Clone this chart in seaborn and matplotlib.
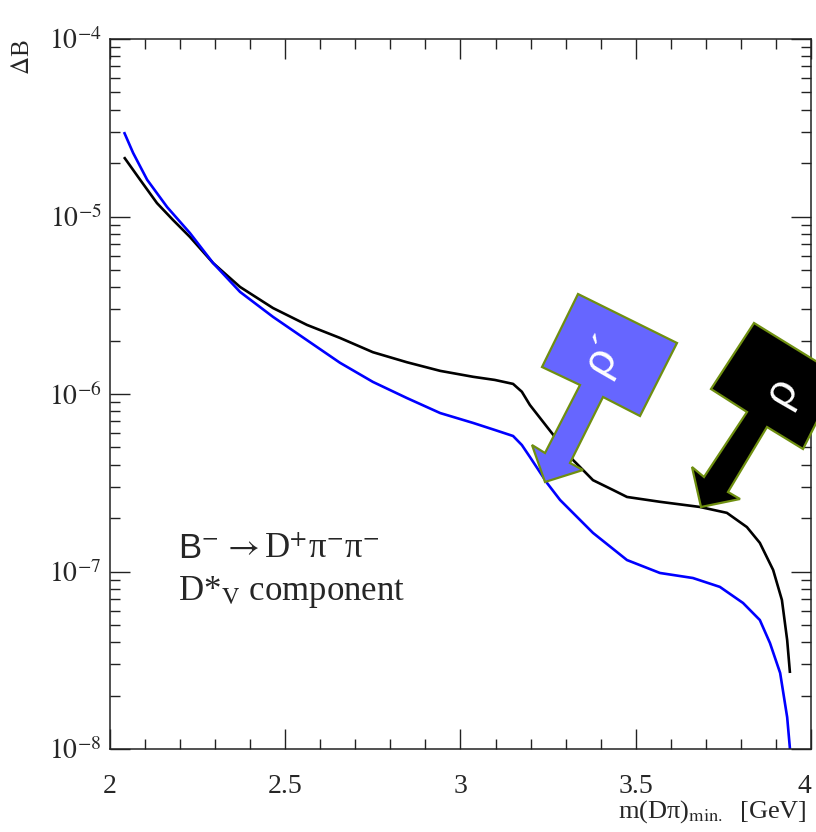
import numpy as np
import pandas as pd
import matplotlib
matplotlib.use("Agg")
import matplotlib.pyplot as plt
import seaborn as sns
from matplotlib.patches import Polygon
from matplotlib.ticker import FixedLocator, FixedFormatter, LogLocator, MultipleLocator, NullFormatter

# ---------------- data ----------------
x_rho = [2.040, 2.086, 2.134, 2.180, 2.228, 2.294, 2.371, 2.465, 2.562, 2.656,
         2.750, 2.847, 2.942, 3.036, 3.098, 3.150, 3.175, 3.198, 3.247, 3.321, 3.341, 3.378,
         3.435, 3.475, 3.569, 3.683, 3.760, 3.817, 3.854, 3.892, 3.917, 3.932, 3.940]
y_rho = [2.16e-5, 1.61e-5, 1.19e-5, 9.55e-6, 7.67e-6, 5.47e-6, 4.01e-6, 3.05e-6, 2.45e-6, 2.07e-6,
         1.72e-6, 1.51e-6, 1.35e-6, 1.25e-6, 1.20e-6, 1.14e-6, 1.03e-6, 8.67e-7, 6.52e-7, 4.25e-7, 3.88e-7, 3.27e-7,
         2.88e-7, 2.63e-7, 2.47e-7, 2.31e-7, 2.14e-7, 1.78e-7, 1.45e-7, 1.02e-7, 6.91e-8, 4.11e-8, 2.68e-8]

x_rhop = [2.040, 2.066, 2.106, 2.163, 2.228, 2.294, 2.371, 2.465, 2.562, 2.656,
          2.750, 2.847, 2.942, 3.036, 3.098, 3.150, 3.175, 3.198, 3.247, 3.284, 3.378,
          3.475, 3.569, 3.663, 3.740, 3.806, 3.854, 3.883, 3.912, 3.932, 3.940]
y_rhop = [2.99e-5, 2.28e-5, 1.61e-5, 1.13e-5, 8.07e-6, 5.47e-6, 3.76e-6, 2.72e-6, 2.01e-6, 1.50e-6,
          1.17e-6, 9.49e-7, 7.81e-7, 6.87e-7, 6.27e-7, 5.80e-7, 5.16e-7, 4.42e-7, 3.15e-7, 2.53e-7, 1.65e-7,
          1.16e-7, 9.81e-8, 9.19e-8, 8.19e-8, 6.65e-8, 5.33e-8, 3.95e-8, 2.68e-8, 1.51e-8, 1.00e-8]

series_names = ["rho", "rho_prime"]
series_colors = ["black", "#0000ff"]

x_ticks = [2, 2.5, 3, 3.5, 4]
x_tick_labels = ["2", "2.5", "3", "3.5", "4"]
y_ticks = [1e-8, 1e-7, 1e-6, 1e-5, 1e-4]
y_tick_labels = [r"$10^{-8}$", r"$10^{-7}$", r"$10^{-6}$", r"$10^{-5}$", r"$10^{-4}$"]

df = pd.concat([
    pd.DataFrame({"m": x_rho, "dB": y_rho, "series": series_names[0]}),
    pd.DataFrame({"m": x_rhop, "dB": y_rhop, "series": series_names[1]}),
], ignore_index=True)

# ---------------- styling ----------------
sns.set_theme(style="white")
plt.rcParams["font.family"] = ["Liberation Serif", "DejaVu Serif"]
plt.rcParams["mathtext.fontset"] = "stix"

W, H = 816, 832
fig = plt.figure(figsize=(W / 100, H / 100), dpi=100)
ax = fig.add_axes([110 / W, 1 - 749 / H, 701 / W, 710 / H])

sns.lineplot(data=df, x="m", y="dB", hue="series", hue_order=series_names,
             palette=dict(zip(series_names, series_colors)), linewidth=1.9,
             legend=False, ax=ax, sort=False)
for ln in ax.get_lines():
    ln.set_solid_joinstyle("round")
    ln.set_solid_capstyle("butt")

ax.set_yscale("log")
ax.set_xlim(2, 4)
ax.set_ylim(1e-8, 1e-4)

ax.xaxis.set_major_locator(FixedLocator(x_ticks))
ax.xaxis.set_major_formatter(FixedFormatter(x_tick_labels))
ax.xaxis.set_minor_locator(MultipleLocator(0.1))
ax.yaxis.set_major_locator(FixedLocator(y_ticks))
ax.yaxis.set_major_formatter(FixedFormatter(y_tick_labels))
ax.yaxis.set_minor_locator(LogLocator(base=10, subs=np.arange(2, 10), numticks=20))
ax.yaxis.set_minor_formatter(NullFormatter())

ax.tick_params(which="both", direction="in", top=True, right=True, bottom=True, left=True,
               color="#222222", width=1.0)
ax.tick_params(which="major", length=14.4)
ax.tick_params(which="minor", length=7.2)
ax.tick_params(axis="x", which="major", labelsize=20, pad=18)
ax.tick_params(axis="y", which="major", labelsize=20, pad=6)
for s in ax.spines.values():
    s.set_color("#222222")
    s.set_linewidth(1.1)

# keep the last x tick label inside the figure
fig.canvas.draw()
ax.get_xticklabels()[-1].set_horizontalalignment("right")

ax.set_xlabel("")
ax.set_ylabel("")

# axis titles (ROOT style)
fig.text(807 / W, 1 - 818 / H, r"m(Dπ)$_{\rm min.}$  [GeV]", ha="right", va="baseline", fontsize=19)
fig.text(23 / W, 1 - 57 / H, r"$\Delta$B", rotation=90, ha="center", va="center", fontsize=18)

# annotation text
t_b = fig.text(178 / W, 1 - 558 / H, r"B$^{-}$ ", ha="left", va="baseline", fontsize=25,
               family=["Liberation Sans", "DejaVu Sans"])
fig.canvas.draw()
bb = t_b.get_window_extent(renderer=fig.canvas.get_renderer())
fig.text(bb.x1 / W, 1 - 558 / H, r"$\rightarrow$D$^{+}$π$^{-}$π$^{-}$",
         ha="left", va="baseline", fontsize=25)
fig.text(178 / W, 1 - 600 / H, r"D*$_{\rm V}$ component",
         ha="left", va="baseline", fontsize=25)

# block arrows (pixel coordinates of the figure)
def px(pts):
    return [(x / W, 1 - y / H) for x, y in pts]

arrow_rho_prime = [(578, 294), (677, 343), (640, 416), (603, 397), (570, 463), (583, 470),
                   (545, 482), (532, 445), (545, 453), (580, 385), (542, 367)]
arrow_rho = [(754, 323), (840, 376), (803, 449), (767, 427), (728, 492), (740, 499),
             (701, 507), (692, 467), (704, 477), (747, 412), (711, 389)]
edge = "#6f8f10"
fig.add_artist(Polygon(px(arrow_rho_prime), closed=True, transform=fig.transFigure,
                       facecolor="#6666ff", edgecolor=edge, linewidth=1.6, zorder=5))
fig.add_artist(Polygon(px(arrow_rho), closed=True, transform=fig.transFigure,
                       facecolor="black", edgecolor=edge, linewidth=1.6, zorder=5))
fig.text(604 / W, 1 - 354 / H, "ρ´", rotation=60, color="white", ha="center", va="center",
         fontsize=32, family=["Liberation Sans", "DejaVu Sans"], zorder=6)
fig.text(782 / W, 1 - 392 / H, "ρ", rotation=60, color="white", ha="center", va="center",
         fontsize=32, family=["Liberation Sans", "DejaVu Sans"], zorder=6)

fig.savefig("out.png", dpi=100, facecolor="white")
